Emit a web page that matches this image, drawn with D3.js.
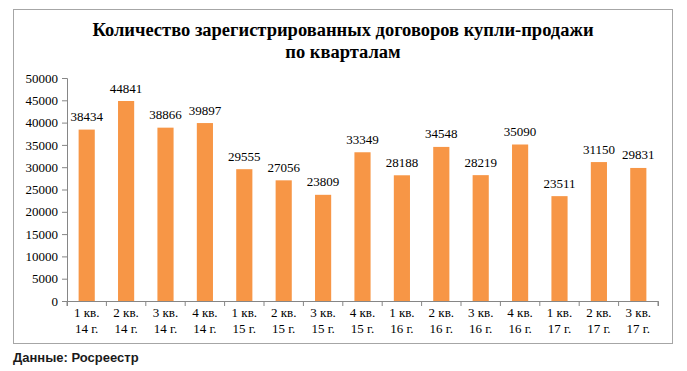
<!DOCTYPE html>
<html><head><meta charset="utf-8">
<script src="https://cdn.jsdelivr.net/npm/d3@7"></script>
<style>body{margin:0;background:#fff;}svg{display:block;}
.serif{font-family:"Liberation Serif","DejaVu Serif",serif;}
.sans{font-family:"Liberation Sans",Arial,sans-serif;}
</style>
</head><body>
<svg id="c" width="687" height="371"></svg>
<script>
const quarters = ["1 кв.","2 кв.","3 кв.","4 кв.","1 кв.","2 кв.","3 кв.","4 кв.","1 кв.","2 кв.","3 кв.","4 кв.","1 кв.","2 кв.","3 кв."];
const years = ["14 г.","14 г.","14 г.","14 г.","15 г.","15 г.","15 г.","15 г.","16 г.","16 г.","16 г.","16 г.","17 г.","17 г.","17 г."];
const values = [38434,44841,38866,39897,29555,27056,23809,33349,28188,34548,28219,35090,23511,31150,29831];
const yTicks = [0,5000,10000,15000,20000,25000,30000,35000,40000,45000,50000];
const titleLines = ["Количество зарегистрированных договоров купли-продажи","по кварталам"];
const source = "Данные: Росреестр";

(function(){
const svg = d3.select("#c");
svg.append("rect").attr("x",13.5).attr("y",9.5).attr("width",659).attr("height",334)
  .attr("fill","#fff").attr("stroke","#a6a6a6").attr("stroke-width",1);

const pL=67, pR=658, pT=78, pB=301;
const idx = values.map((d,i)=>i);
const x = d3.scaleBand().domain(idx).range([pL,pR]).paddingInner(0.59).paddingOuter(0.295);
const xb = d3.scaleBand().domain(idx).range([pL,pR]);
const y = d3.scaleLinear().domain([0,50000]).range([pB,pT]);

svg.selectAll("text.title").data(titleLines).join("text").attr("class","title serif")
  .attr("x",343).attr("y",(d,i)=>36+i*22).attr("text-anchor","middle")
  .style("font-weight","bold").style("font-size","18.5px").attr("fill","#000")
  .text(d=>d);

const ya = svg.append("g").attr("transform",`translate(${pL},0)`)
  .call(d3.axisLeft(y).tickValues(yTicks).tickSize(5).tickPadding(4).tickFormat(d=>String(d)));
ya.attr("font-family",null).attr("font-size",null);
ya.select(".domain").attr("stroke","#868686");
ya.selectAll(".tick line").attr("stroke","#868686");
ya.selectAll("text").attr("class","serif").style("font-size","13px").attr("fill","#000");

svg.selectAll("rect.bar").data(values).join("rect").attr("class","bar")
  .attr("x",(d,i)=>x(i)).attr("width",x.bandwidth())
  .attr("y",d=>y(d)).attr("height",d=>pB-y(d)).attr("fill","#F79646");

svg.selectAll("text.lbl").data(values).join("text").attr("class","lbl serif")
  .attr("x",(d,i)=>x(i)+x.bandwidth()/2).attr("y",d=>y(d)-8.5).attr("text-anchor","middle")
  .style("font-size","13px").attr("fill","#000").text(d=>d);

const xa = svg.append("g").attr("transform",`translate(0,${pB})`)
  .call(d3.axisBottom(xb).tickSize(5).tickFormat(""));
xa.select(".domain").attr("stroke","#868686");
xa.selectAll(".tick").remove();
const tickPos = d3.range(values.length+1).map(i=>pL+i*xb.step());
xa.selectAll("line.t").data(tickPos).join("line").attr("class","t")
  .attr("x1",d=>d).attr("x2",d=>d).attr("y1",0).attr("y2",5).attr("stroke","#868686");

const cat = svg.append("g");
cat.selectAll("text").data(idx).join("text").attr("class","serif")
  .attr("x",i=>xb(i)+xb.bandwidth()/2).attr("y",317).attr("text-anchor","middle")
  .style("font-size","13px").attr("fill","#000")
  .each(function(i){
    const t=d3.select(this);
    t.append("tspan").attr("x",xb(i)+xb.bandwidth()/2).attr("dy",0).text(quarters[i]);
    t.append("tspan").attr("x",xb(i)+xb.bandwidth()/2).attr("dy",16).text(years[i]);
  });

svg.append("text").attr("class","sans").attr("x",13).attr("y",362)
  .style("font-weight","bold").style("font-size","13px").attr("fill","#1a1a1a").text(source);
})();
</script>
</body></html>
